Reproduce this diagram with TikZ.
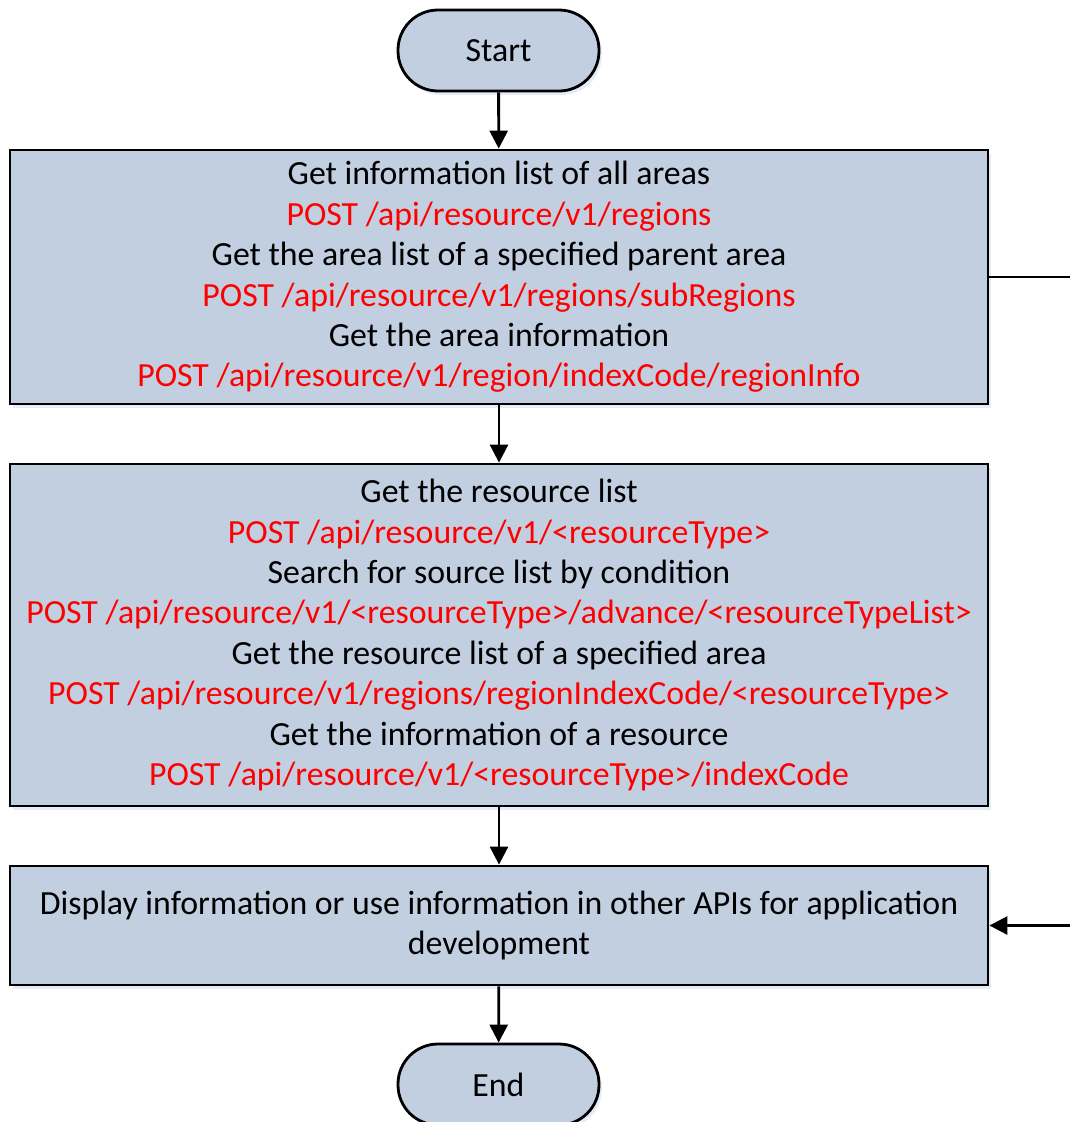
\documentclass[tikz,border=0pt]{standalone}
\usepackage{fontspec}
\setmainfont{Carlito}
\usetikzlibrary{arrows.meta,shadows}
\definecolor{boxfill}{RGB}{193,207,225}
\definecolor{apired}{RGB}{255,0,0}
\definecolor{shadowblue}{RGB}{220,230,242}
\newcommand{\api}[1]{\textcolor{apired}{#1}}
\begin{document}
\begin{tikzpicture}[x=1pt,y=-1pt,
  txt/.style={font=\fontsize{33.8}{40.4}\selectfont},
  shade/.style={drop shadow={shadow xshift=3pt,shadow yshift=-4pt,fill=shadowblue,opacity=0.7}},
  box/.style={txt,draw=black,line width=2.8pt,fill=boxfill,shade,minimum width=978pt,align=center,inner sep=0pt},
  term/.style={txt,draw=black,line width=2.8pt,fill=boxfill,shade,rounded corners=40pt,minimum width=201pt,minimum height=81pt,inner sep=0pt},
  flow/.style={line width=2.8pt,-{Triangle[length=18pt,width=18pt]}}]
\useasboundingbox (0,0) rectangle (1070,1122);

\node[term] (start) at (498.5,50.5) {Start};

\node[box,minimum height=254pt] (b1) at (499,277) {%
Get information list of all areas\\
\api{POST /api/resource/v1/regions}\\
Get the area list of a specified parent area\\
\api{POST /api/resource/v1/regions/subRegions}\\
Get the area information\\
\api{POST /api/resource/v1/region/indexCode/regionInfo}};

\node[box,minimum height=342pt] (b2) at (499,635) {%
Get the resource list\\
\api{POST /api/resource/v1/<resourceType>}\\
Search for source list by condition\\
\api{POST /api/resource/v1/<resourceType>/advance/<resourceTypeList>}\\
Get the resource list of a specified area\\
\api{POST /api/resource/v1/regions/regionIndexCode/<resourceType>}\\
Get the information of a resource\\
\api{POST /api/resource/v1/<resourceType>/indexCode}};

\node[box,minimum height=119pt] (b3) at (499,925.5) {%
Display information or use information in other APIs for application\\
development};

\node[term] (end) at (498.5,1084.5) {End};

\draw[flow] (start) -- (b1);
\draw[flow] (b1) -- (b2);
\draw[flow] (b2) -- (b3);
\draw[flow] (b3) -- (end);
\coordinate (side) at (1085,277);
\draw[flow] (b1.east) -- (side) |- (b3.east);
\end{tikzpicture}
\end{document}
